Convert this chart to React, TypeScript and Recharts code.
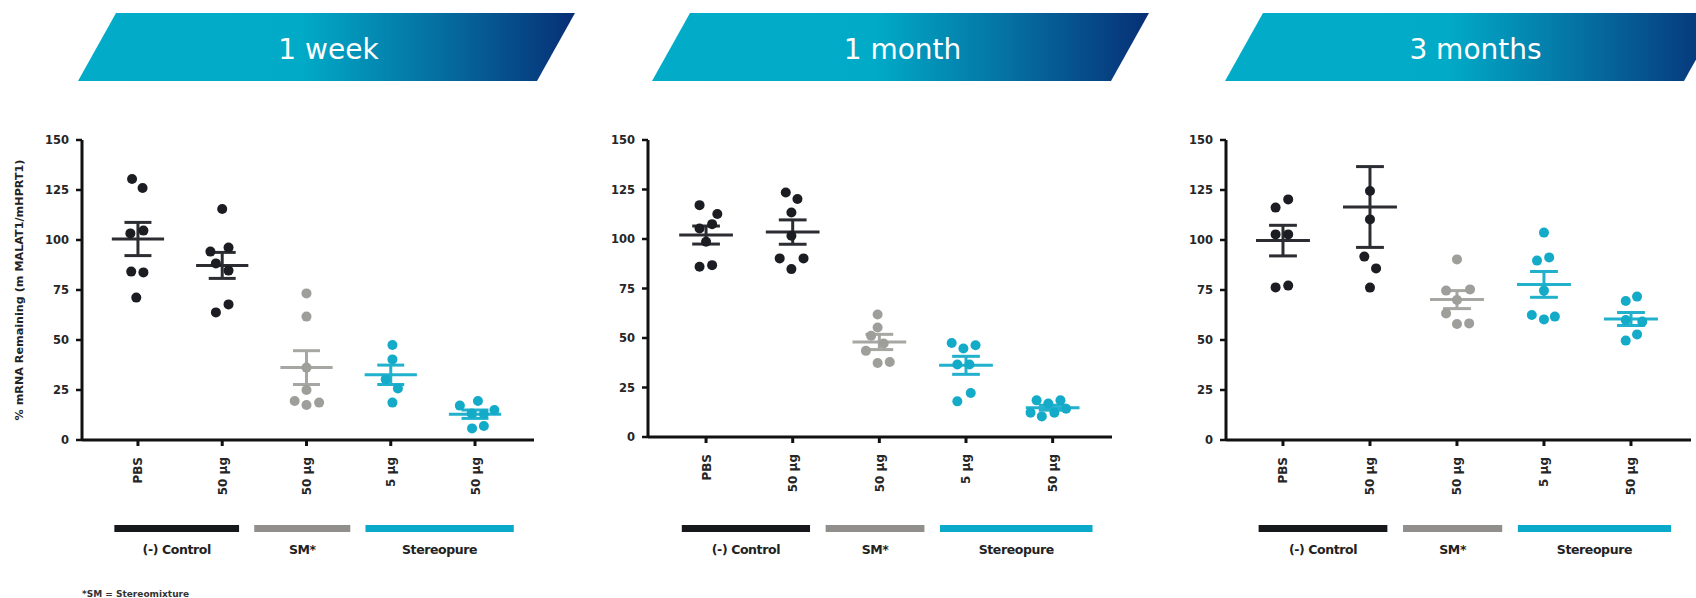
import React from 'react';
import { ScatterChart, Scatter, XAxis, YAxis, ReferenceLine } from 'recharts';

// ---------- data ----------
const CATEGORIES = ['PBS', '50 µg', '50 µg', '5 µg', '50 µg'];
const GROUP_KIND = ['control', 'control', 'sm', 'stereo', 'stereo'];
const Y_TICKS = [0, 25, 50, 75, 100, 125, 150];
const PANEL_TITLES = ['1 week', '1 month', '3 months'];
const LEGEND_LABELS = ['(-) Control', 'SM*', 'Stereopure'];
const LEGEND_SPANS = [[0.72, 2.2], [2.38, 3.52], [3.7, 5.46]];
const Y_LABEL = '% mRNA Remaining (m MALAT1/mHPRT1)';
const FOOTNOTE = '*SM = Stereomixture';

const week1Values = [
  [130.5, 126, 103.3, 104.7, 84.2, 83.8, 71.2],
  [115.5, 94.2, 96.2, 88.3, 84.7, 67.8, 63.8],
  [73.3, 61.7, 36.2, 25, 19.5, 17.5, 18.7],
  [47.5, 40.3, 30.3, 25.8, 18.7],
  [17.2, 19.5, 15, 13.3, 13, 5.8, 7],
];
const week1Jitter = [
  [-0.07, 0.055, -0.09, 0.065, -0.08, 0.065, -0.02],
  [0, -0.14, 0.075, -0.075, 0.075, 0.075, -0.075],
  [0, 0, 0, 0, -0.14, 0, 0.15],
  [0.02, 0.02, -0.06, 0.085, 0.02],
  [-0.18, 0.035, 0.23, -0.04, 0.105, -0.035, 0.105],
];
const week1Mean = [100.5, 87.3, 36.2, 32.6, 12.9];
const week1Sem = [8.3, 6.5, 8.45, 4.85, 2.1];

const month1Values = [
  [117.1, 112.6, 105.3, 107.5, 98.6, 86, 86.8],
  [123.5, 120.2, 113.4, 101.6, 90.2, 90.2, 84.8],
  [61.9, 55.3, 51.1, 47.2, 43.5, 37.4, 37.9],
  [47.5, 44.7, 46.3, 36.6, 36.6, 22.2, 18],
  [18.5, 16.9, 18.5, 12.3, 12.3, 14.3, 10.4],
];
const month1Jitter = [
  [-0.075, 0.13, -0.075, 0.07, 0, -0.075, 0.07],
  [-0.08, 0.055, -0.015, -0.015, -0.15, 0.125, -0.015],
  [-0.02, -0.02, -0.095, 0.05, -0.155, -0.02, 0.12],
  [-0.165, -0.03, 0.11, -0.1, 0.04, 0.055, -0.1],
  [-0.185, -0.05, 0.09, -0.255, 0.02, 0.155, -0.125],
];
const month1Mean = [102, 103.5, 48, 36.2, 14.8];
const month1Sem = [4.55, 6.15, 3.85, 4.55, 1.25];

const month3Values = [
  [116.2, 120.3, 102.8, 102.8, 76.3, 77.2],
  [124.5, 110.3, 91.7, 85.8, 76.2],
  [90.3, 74.7, 75.3, 70, 63.3, 58, 58.3],
  [103.7, 89.7, 91.3, 74.7, 62.5, 60.3, 61.7],
  [69.5, 71.7, 60, 59.2, 52.8, 49.7],
];
const month3Jitter = [
  [-0.085, 0.06, -0.085, 0.06, -0.085, 0.06],
  [0, 0, -0.065, 0.07, 0],
  [0, -0.125, 0.15, 0, -0.125, 0, 0.14],
  [0, -0.08, 0.06, 0, -0.14, 0, 0.125],
  [-0.06, 0.07, -0.06, 0.13, 0.07, -0.06],
];
const month3Mean = [99.7, 116.5, 70.2, 77.8, 60.5];
const month3Sem = [7.65, 20.2, 4.5, 6.45, 3.25];

// ---------- styles ----------
const DOT: Record<string, string> = { control: '#1c1d22', sm: '#9e9e9a', stereo: '#14abc8' };
const LINE: Record<string, string> = { control: '#2c2d32', sm: '#a6a6a2', stereo: '#22b1cd' };
const BAR: Record<string, string> = { control: '#16181c', sm: '#908f8b', stereo: '#0aa9c9' };
const BAR_KIND = ['control', 'sm', 'stereo'];
const FONT = "'DejaVu Sans', Verdana, sans-serif";

const PANELS = [
  { values: week1Values, jitter: week1Jitter, mean: week1Mean, sem: week1Sem, axisX: 82, axisEnd: 534, top: 140, bottom: 440, domain: [0.336, 5.7], banner: 78 },
  { values: month1Values, jitter: month1Jitter, mean: month1Mean, sem: month1Sem, axisX: 648, axisEnd: 1112, top: 140, bottom: 437, domain: [0.33, 5.685], banner: 652 },
  { values: month3Values, jitter: month3Jitter, mean: month3Mean, sem: month3Sem, axisX: 1226, axisEnd: 1691, top: 140, bottom: 440, domain: [0.345, 5.69], banner: 1225 },
];

const renderXTick = (props: any) => {
  const { x, y, payload } = props;
  const label = CATEGORIES[payload.value - 1];
  const tx = x + 4.5;
  const ty = y + 9;
  return (
    <text x={tx} y={ty} transform={`rotate(-90 ${tx} ${ty})`} textAnchor="end" fontFamily={FONT} fontWeight="bold" fontSize={12} fill="#262626">
      {label}
    </text>
  );
};

const dotShape = (color: string) => (props: any) => (
  <circle cx={props.cx} cy={props.cy} r={5} fill={color} />
);

function Panel({ p }: { p: any }) {
  const mLeft = 10, yW = 40, mRight = 10, mTop = 40, xH = 70, mBottom = 10;
  const left = p.axisX - mLeft - yW;
  const width = p.axisEnd - p.axisX + mLeft + yW + mRight;
  const chartTop = p.top - mTop;
  const height = p.bottom - p.top + mTop + xH + mBottom;
  const groups = p.values.map((vals: number[], gi: number) =>
    vals.map((v: number, i: number) => ({ x: gi + 1 + p.jitter[gi][i], y: v }))
  );
  return (
    <div style={{ position: 'absolute', left, top: chartTop }}>
      <ScatterChart width={width} height={height} margin={{ top: mTop, left: mLeft, right: mRight, bottom: mBottom }}>
        <XAxis
          type="number"
          dataKey="x"
          domain={p.domain}
          ticks={[1, 2, 3, 4, 5]}
          interval={0}
          allowDataOverflow
          height={xH}
          tickSize={6}
          axisLine={{ stroke: '#111', strokeWidth: 3 }}
          tickLine={{ stroke: '#111', strokeWidth: 3 }}
          tick={renderXTick}
        />
        <YAxis
          type="number"
          dataKey="y"
          domain={[0, 150]}
          ticks={Y_TICKS}
          interval={0}
          allowDataOverflow
          width={yW}
          tickSize={6}
          tickMargin={7}
          axisLine={{ stroke: '#111', strokeWidth: 3 }}
          tickLine={{ stroke: '#111', strokeWidth: 2.5 }}
          tick={{ fontFamily: FONT, fontWeight: 'bold', fontSize: 11.5, fill: '#262626' }}
        />
        {groups.map((data: any[], gi: number) => (
          <Scatter key={`s${gi}`} data={data} isAnimationActive={false} shape={dotShape(DOT[GROUP_KIND[gi]])} />
        ))}
        {p.mean.map((m: number, gi: number) => {
          const c = LINE[GROUP_KIND[gi]];
          const g = gi + 1;
          const s = p.sem[gi];
          return [
            <ReferenceLine key={`m${gi}`} segment={[{ x: g - 0.31, y: m }, { x: g + 0.31, y: m }]} stroke={c} strokeWidth={3} ifOverflow="visible" />,
            <ReferenceLine key={`v${gi}`} segment={[{ x: g, y: m - s }, { x: g, y: m + s }]} stroke={c} strokeWidth={3} ifOverflow="visible" />,
            <ReferenceLine key={`t${gi}`} segment={[{ x: g - 0.16, y: m + s }, { x: g + 0.16, y: m + s }]} stroke={c} strokeWidth={3} ifOverflow="visible" />,
            <ReferenceLine key={`b${gi}`} segment={[{ x: g - 0.16, y: m - s }, { x: g + 0.16, y: m - s }]} stroke={c} strokeWidth={3} ifOverflow="visible" />,
          ];
        })}
      </ScatterChart>
    </div>
  );
}

function Overlay() {
  return (
    <svg width={1696} height={598} style={{ position: 'absolute', left: 0, top: 0, pointerEvents: 'none' }}>
      <defs>
        <linearGradient id="bannerGrad" x1="0" y1="0" x2="1" y2="0">
          <stop offset="0%" stopColor="#02acc9" />
          <stop offset="45%" stopColor="#01aac7" />
          <stop offset="72%" stopColor="#0570a2" />
          <stop offset="100%" stopColor="#072f76" />
        </linearGradient>
      </defs>
      {PANELS.map((p, i) => {
        const bl = p.banner;
        const w = 459;
        const slant = 38;
        const pts = `${bl},81 ${bl + w},81 ${bl + w + slant},13 ${bl + slant},13`;
        return (
          <g key={`b${i}`}>
            <polygon points={pts} fill="url(#bannerGrad)" />
            <text x={bl + w / 2 + slant / 2 + 2} y={59} textAnchor="middle" fontFamily={FONT} fontSize={28} fill="#ffffff">
              {PANEL_TITLES[i]}
            </text>
          </g>
        );
      })}
      {PANELS.map((p, i) => {
        const unit = (p.axisEnd - p.axisX) / (p.domain[1] - p.domain[0]);
        const px = (u: number) => p.axisX + (u - p.domain[0]) * unit;
        return (
          <g key={`l${i}`}>
            {LEGEND_SPANS.map((sp, k) => (
              <g key={k}>
                <rect x={px(sp[0])} y={525} width={px(sp[1]) - px(sp[0])} height={7} fill={BAR[BAR_KIND[k]]} />
                <text x={(px(sp[0]) + px(sp[1])) / 2} y={554} textAnchor="middle" fontFamily={FONT} fontWeight="bold" fontSize={12.5} letterSpacing={-0.4} fill="#222">
                  {LEGEND_LABELS[k]}
                </text>
              </g>
            ))}
          </g>
        );
      })}
      <text x={19} y={290} transform="rotate(-90 19 290)" textAnchor="middle" dominantBaseline="central" fontFamily={FONT} fontWeight="bold" fontSize={11.2} fill="#222">
        {Y_LABEL}
      </text>
      <text x={82} y={597} fontFamily={FONT} fontWeight="bold" fontSize={9} fill="#333">
        {FOOTNOTE}
      </text>
    </svg>
  );
}

export default function App() {
  return (
    <div style={{ position: 'absolute', left: 0, top: 0, width: 1696, height: 598, background: '#fff', overflow: 'hidden' }}>
      {PANELS.map((p, i) => (
        <Panel key={i} p={p} />
      ))}
      <Overlay />
    </div>
  );
}
